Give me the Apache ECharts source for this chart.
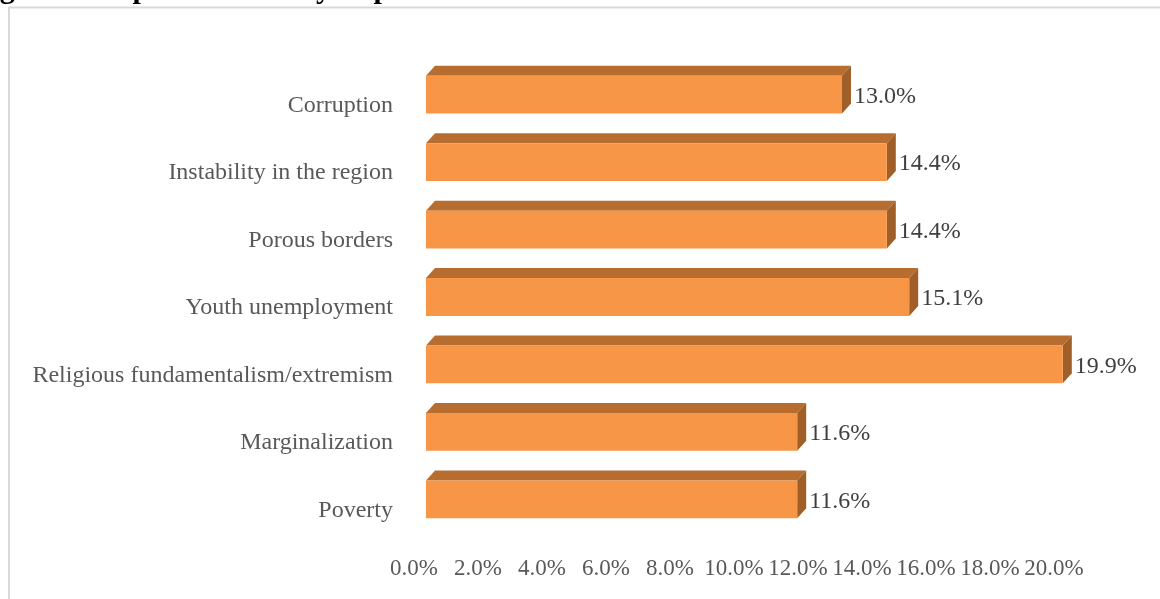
<!DOCTYPE html>
<html>
<head>
<meta charset="utf-8">
<script src="https://cdn.jsdelivr.net/npm/echarts@6/dist/echarts.min.js"></script>
<style>
  html, body { margin: 0; padding: 0; background: #ffffff; }
  #chart { width: 1160px; height: 599px; }
</style>
</head>
<body>
<div id="chart"></div>
<script>
// Perceived drivers of extremism, share of respondents (%)
const categories = [
  'Corruption',
  'Instability in the region',
  'Porous borders',
  'Youth unemployment',
  'Religious fundamentalism/extremism',
  'Marginalization',
  'Poverty'
];
const values = [13.0, 14.4, 14.4, 15.1, 19.9, 11.6, 11.6];
const axisMin = 0;
const axisMax = 20;
const axisStep = 2;

const SERIF = '"Liberation Serif", "Times New Roman", serif';
const FRONT = '#F79646';
const TOP = '#B76C30';
const SIDE = '#A05E28';
const DEPTH_X = 9;
const DEPTH_Y = 10;

// Each bar is drawn as a box: front face, top face and right-hand side face
function renderBar(params, api) {
  const v = api.value(0);
  const cat = api.value(1);
  const p0 = api.coord([0, cat]);
  const p1 = api.coord([v, cat]);
  const h = api.size([0, 1])[1] * 0.56;
  const x0 = p0[0], x1 = p1[0];
  const yt = p0[1] - h / 2, yb = p0[1] + h / 2;
  return {
    type: 'group',
    children: [
      {
        type: 'polygon',
        shape: { points: [[x0, yt], [x1, yt], [x1 + DEPTH_X, yt - DEPTH_Y], [x0 + DEPTH_X, yt - DEPTH_Y]] },
        style: { fill: TOP }
      },
      {
        type: 'polygon',
        shape: { points: [[x1, yt], [x1 + DEPTH_X, yt - DEPTH_Y], [x1 + DEPTH_X, yb - DEPTH_Y], [x1, yb]] },
        style: { fill: SIDE }
      },
      {
        type: 'rect',
        shape: { x: x0, y: yt, width: x1 - x0, height: h },
        style: { fill: FRONT }
      },
      {
        type: 'text',
        x: x1 + DEPTH_X + 3,
        y: p0[1] + 2,
        style: {
          text: v.toFixed(1) + '%',
          fill: '#404040',
          font: '24px ' + SERIF,
          verticalAlign: 'middle',
          align: 'left'
        }
      }
    ]
  };
}

const chart = echarts.init(document.getElementById('chart'), null, { renderer: 'canvas' });

chart.setOption({
  animation: false,
  backgroundColor: '#ffffff',
  graphic: [
    {
      type: 'rect',
      shape: { x: 9, y: 7.5, width: 1300, height: 800 },
      style: { fill: 'none', stroke: '#d9d9d9', lineWidth: 2 },
      z: 0
    },
    {
      type: 'text',
      x: -27,
      y: -25,
      style: {
        text: 'Figure 3: Representation by Experience',
        font: 'bold 30px ' + SERIF,
        fill: '#000000'
      },
      z: 10
    }
  ],
  grid: [
    { left: 426, top: 61, width: 640, height: 472, containLabel: false },
    { left: 414, top: 72, width: 640, height: 472, containLabel: false }
  ],
  xAxis: [
    {
      gridIndex: 0, type: 'value', min: axisMin, max: axisMax, interval: axisStep,
      show: false
    },
    {
      gridIndex: 1, type: 'value', min: axisMin, max: axisMax, interval: axisStep,
      axisLine: { show: false }, axisTick: { show: false }, splitLine: { show: false },
      axisLabel: {
        margin: 13,
        color: '#595959',
        fontFamily: SERIF,
        fontSize: 23,
        formatter: v => v.toFixed(1) + '%'
      }
    }
  ],
  yAxis: [
    {
      gridIndex: 0, type: 'category', data: categories, inverse: true, show: false
    },
    {
      gridIndex: 1, type: 'category', data: categories, inverse: true,
      axisLine: { show: false }, axisTick: { show: false }, splitLine: { show: false },
      axisLabel: {
        margin: 21,
        color: '#595959',
        fontFamily: SERIF,
        fontSize: 24
      }
    }
  ],
  series: [
    {
      type: 'custom',
      xAxisIndex: 0,
      yAxisIndex: 0,
      renderItem: renderBar,
      encode: { x: 0, y: 1 },
      data: values.map((v, i) => [v, i]),
      z: 2
    },
    {
      type: 'scatter',
      xAxisIndex: 1,
      yAxisIndex: 1,
      data: [],
      silent: true
    }
  ]
});
</script>
</body>
</html>
